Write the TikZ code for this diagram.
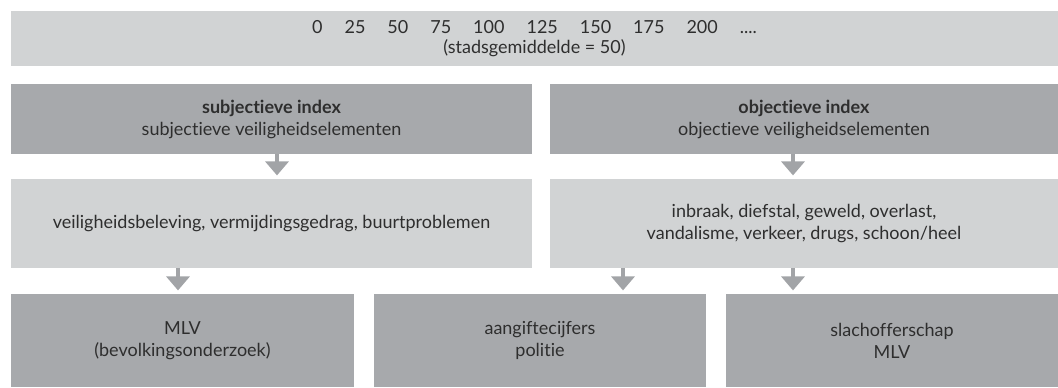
\documentclass[tikz,border=0pt]{standalone}
\usepackage{fontspec}
\setmainfont[Ligatures=NoCommon]{Lato}
\usetikzlibrary{arrows.meta}
\definecolor{donker}{HTML}{A7A9AC}
\definecolor{licht}{HTML}{D1D3D4}
\definecolor{pijlgrijs}{HTML}{A2A4A7}
\definecolor{tekst}{HTML}{2E2E2E}

\begin{document}
\begin{tikzpicture}[x=0.75pt,y=-0.75pt]
\tikzstyle{every node}+=[inner sep=0pt, align=center, text=tekst, font=\fontsize{13.5}{16.5}\selectfont]
\tikzstyle{donkervak}=[rectangle, fill=donker, minimum height=52.5pt]
\tikzstyle{lichtvak}=[rectangle, fill=licht, minimum height=66.75pt]
\tikzstyle{bronvak}=[rectangle, fill=donker, minimum height=69.75pt]
\tikzstyle{pijl}=[draw=pijlgrijs, line width=3pt, -{Triangle[width=17.25pt,length=10.5pt]}, shorten >=2.5pt]
\newcommand{\tus}{\hspace{16.5pt}}
\useasboundingbox (0,0) rectangle (1058,387);
\node [rectangle, fill=licht, minimum width=785.25pt, minimum height=41.25pt] (schaal) at (534.5,38.5)
  {0\tus 25\tus 50\tus 75\tus 100\tus 125\tus 150\tus 175\tus 200\tus ....\\[-1pt]
   (stadsgemiddelde = 50)};
\node [donkervak, minimum width=390.75pt] (subj) at (271.5,119)
  {\textbf{subjectieve index}\\subjectieve veiligheidselementen};
\node [donkervak, minimum width=381pt] (obj) at (804,119)
  {\textbf{objectieve index}\\objectieve veiligheidselementen};
\node [lichtvak, minimum width=390.75pt] (beleving) at (271.5,223.5)
  {veiligheidsbeleving, vermijdingsgedrag, buurtproblemen};
\node [lichtvak, minimum width=381pt] (delicten) at (804,223.5)
  {inbraak, diefstal, geweld, overlast,\\vandalisme, verkeer, drugs, schoon/heel};
\node [bronvak, minimum width=257.25pt] (mlv) at (182.5,340.5)
  {MLV\\(bevolkingsonderzoek)};
\node [bronvak, minimum width=249pt] (aangifte) at (540,340.5)
  {aangiftecijfers\\politie};
\node [bronvak, minimum width=249pt] (slachtoffer) at (892,340.5)
  {slachofferschap\\MLV};
\coordinate (k1) at (277,0);
\coordinate (k2) at (793,0);
\coordinate (k3) at (178,0);
\coordinate (k4) at (623,0);
\draw [pijl] (subj.south -| k1) -- (beleving.north -| k1);
\draw [pijl] (obj.south -| k2) -- (delicten.north -| k2);
\draw [pijl] (beleving.south -| k3) -- (mlv.north -| k3);
\draw [pijl] (delicten.south -| k4) -- (aangifte.north -| k4);
\draw [pijl] (delicten.south -| k2) -- (slachtoffer.north -| k2);
\end{tikzpicture}
\end{document}
